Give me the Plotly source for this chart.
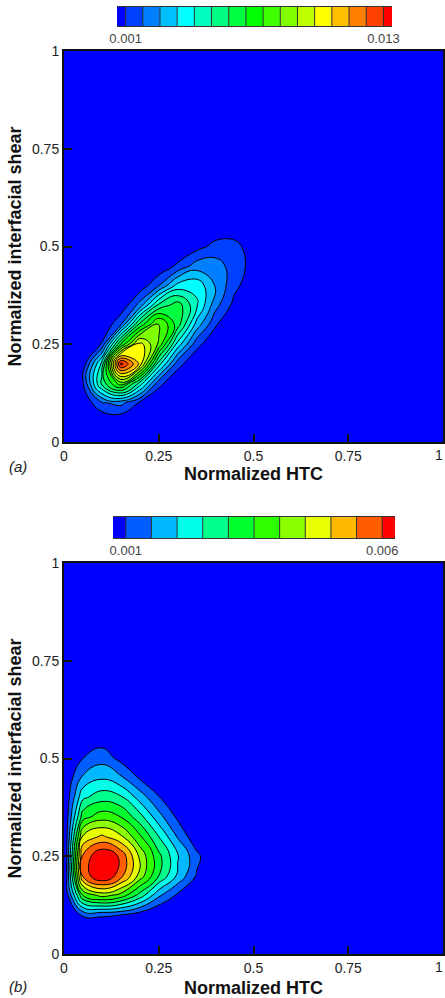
import numpy as np
import plotly.graph_objects as go

# Grid nodes (normalized HTC on x, normalized interfacial shear on y)
HTC_A = [0.0, 0.05, 0.10, 0.15, 0.20, 0.25, 0.30, 0.35, 0.40, 0.45, 0.50, 0.55]
SHEAR_A = [0.0, 0.05, 0.10, 0.15, 0.20, 0.25, 0.30, 0.35, 0.40, 0.45, 0.50, 0.55, 0.60]

# Joint PDF, case (a), in units of 1e-3 (rows follow SHEAR_A, columns HTC_A)
PDF_A = [
    [0, 0, 0, 0, 0, 0, 0, 0, 0, 0, 0, 0],
    [0, 0, 0.12, 0.19, 0.07, 0.01, 0, 0, 0, 0, 0, 0],
    [0, 0.35, 1.7, 2.05, 0.86, 0.15, 0.02, 0, 0, 0, 0, 0],
    [0.03, 0.93, 5.26, 7.9, 4.7, 1.28, 0.22, 0.03, 0, 0, 0, 0],
    [0.01, 0.42, 4.48, 13.3, 10.4, 4.6, 1.32, 0.29, 0.05, 0, 0, 0],
    [0, 0.05, 1.09, 6.66, 10.2, 8.05, 3.86, 1.27, 0.32, 0.06, 0, 0],
    [0, 0, 0.14, 1.77, 6.13, 8.47, 6.2, 3.05, 1.08, 0.29, 0.06, 0],
    [0, 0, 0, 0.32, 2.13, 5.19, 6.23, 4.34, 2.08, 0.73, 0.21, 0.05],
    [0, 0, 0, 0.05, 0.44, 1.77, 3.7, 3.97, 2.53, 1.21, 0.47, 0.14],
    [0, 0, 0, 0, 0.05, 0.33, 1.17, 2.2, 2.17, 1.42, 0.69, 0.25],
    [0, 0, 0, 0, 0, 0.03, 0.21, 0.69, 1.27, 1.19, 0.67, 0.26],
    [0, 0, 0, 0, 0, 0, 0, 0.13, 0.4, 0.61, 0.42, 0.13],
    [0, 0, 0, 0, 0, 0, 0, 0, 0.06, 0.14, 0.12, 0],
]

HTC_B = [0.0, 0.05, 0.10, 0.15, 0.20, 0.25, 0.30, 0.35, 0.40]
SHEAR_B = [0.0, 0.05, 0.10, 0.15, 0.20, 0.25, 0.30, 0.35, 0.40, 0.45, 0.50, 0.55, 0.60]

# Joint PDF, case (b), in units of 1e-3 (rows follow SHEAR_B, columns HTC_B)
PDF_B = [
    [0, 0, 0, 0, 0, 0, 0, 0, 0],
    [0, 0.1, 0.1, 0.1, 0.1, 0, 0, 0, 0],
    [0.2, 1.1, 1.1, 1.0, 0.7, 0.4, 0.15, 0, 0],
    [0.3, 3.5, 4.2, 3.8, 2.8, 1.6, 0.9, 0.2, 0],
    [0.2, 5.6, 6.6, 5.7, 4.3, 3.0, 1.9, 0.95, 0.3],
    [0.2, 5.6, 6.5, 5.9, 4.4, 3.15, 2.05, 1.15, 0.4],
    [0.3, 4.6, 5.1, 4.6, 3.6, 2.5, 1.45, 0.6, 0.1],
    [0.4, 3.3, 3.8, 3.5, 2.7, 1.7, 0.9, 0.3, 0],
    [0.45, 2.4, 2.8, 2.6, 1.8, 1.05, 0.4, 0.05, 0],
    [0.5, 1.6, 1.95, 1.6, 0.95, 0.4, 0.1, 0, 0],
    [0.3, 1.0, 1.3, 0.85, 0.4, 0.1, 0, 0, 0],
    [0.1, 0.5, 0.75, 0.45, 0.15, 0, 0, 0, 0],
    [0, 0.2, 0.3, 0.15, 0, 0, 0, 0, 0],
]

# Contour levels (first level, last level, spacing) of each case
LEVELS_A = (0.001, 0.013, 0.0008)
LEVELS_B = (0.001, 0.006, 0.0005)
TICKS_X = [0, 0.25, 0.5, 0.75]
TICKS_Y = [0, 0.25, 0.5, 0.75, 1]

RAINBOW = [[0.0, "rgb(0,0,255)"], [0.25, "rgb(0,255,255)"], [0.5, "rgb(0,255,0)"],
           [0.75, "rgb(255,255,0)"], [1.0, "rgb(255,0,0)"]]

W, H = 445, 998
FONT = "Liberation Sans, Arial, Helvetica, sans-serif"


def extend(nodes):
    # the density is zero beyond the tabulated window, out to the axis limit
    return list(nodes) + [1.0]


def field(rows):
    z = np.array(rows, dtype=float) * 1e-3
    return np.pad(z, ((0, 1), (0, 1)))


def px_x(p):
    return p / W


def px_y(p):
    return 1 - p / H


def level_values(levels):
    start, end, size = levels
    n = int(round((end - start) / size)) + 1
    return [start + i * size for i in range(n)]


def contour(x, y, rows, levels, xa, ya):
    start, end, size = levels
    return go.Contour(
        x=extend(x), y=extend(y), z=field(rows),
        xaxis=xa, yaxis=ya, showscale=False,
        colorscale=RAINBOW,
        contours=dict(coloring="fill", showlines=True, start=start, end=end, size=size),
        line=dict(color="black", width=1, smoothing=1.3),
        hoverinfo="skip",
    )


def legend_traces(levels, xa, ya):
    # Banded legend: one box per fill band, half-width boxes for the open ends
    lv = level_values(levels)
    size = levels[2]
    edges = [lv[0] - size / 2] + lv + [lv[-1] + size / 2]
    nb = len(edges) - 1
    band = go.Heatmap(
        x=edges, y=[0, 1], z=[list(range(nb))], zmin=0, zmax=nb - 1,
        colorscale=RAINBOW, showscale=False, hoverinfo="skip", xaxis=xa, yaxis=ya,
    )
    sx, sy = [], []
    for v in lv:
        sx += [v, v, None]
        sy += [0, 1, None]
    seps = go.Scatter(x=sx, y=sy, mode="lines", line=dict(color="#333", width=1),
                      hoverinfo="skip", xaxis=xa, yaxis=ya)
    return [band, seps]


fig = go.Figure()
fig.add_trace(contour(HTC_A, SHEAR_A, PDF_A, LEVELS_A, "x", "y"))
fig.add_trace(contour(HTC_B, SHEAR_B, PDF_B, LEVELS_B, "x2", "y2"))
for t in legend_traces(LEVELS_A, "x3", "y3") + legend_traces(LEVELS_B, "x4", "y4"):
    fig.add_trace(t)

tickfont = dict(family=FONT, size=14, color="#222")
titlefont = dict(family=FONT, size=18, color="#111", weight="bold")


def xaxis(anchor, standoff):
    # tick mark at 1 is drawn; its label is placed separately against the page edge
    return dict(range=[0, 1], tickvals=TICKS_X + [1], ticktext=["0", "0.25", "0.5", "0.75", ""],
                ticks="inside", ticklen=8, tickwidth=2,
                tickcolor="#111", showline=True, linewidth=2, linecolor="#111", mirror=True,
                showgrid=False, zeroline=False, tickfont=tickfont, anchor=anchor,
                automargin=False, domain=[px_x(64), px_x(443)],
                title=dict(text="Normalized HTC", font=titlefont, standoff=standoff))


def yaxis(anchor, top, bottom):
    return dict(range=[0, 1], tickvals=TICKS_Y, ticks="inside", ticklen=8, tickwidth=2,
                tickcolor="#111", showline=True, linewidth=2, linecolor="#111", mirror=True,
                showgrid=False, zeroline=False, tickfont=tickfont, anchor=anchor,
                automargin=False, domain=[px_y(bottom), px_y(top)],
                title=dict(text="Normalized interfacial shear", font=titlefont, standoff=6))


def legend_xaxis(anchor, levels, x0, x1):
    start, end, size = levels
    return dict(range=[start - size / 2, end + size / 2], domain=[px_x(x0), px_x(x1)],
                anchor=anchor, tickvals=[start, end],
                ticktext=[f"{start:.3f}", f"{end:.3f}"], ticks="", showgrid=False,
                zeroline=False, showline=True, linewidth=1, linecolor="#333", mirror=True,
                automargin=False,
                tickfont=dict(family=FONT, size=13, color="#444"), fixedrange=True)


def legend_yaxis(anchor, top, bottom):
    return dict(range=[0, 1], domain=[px_y(bottom), px_y(top)], anchor=anchor,
                showticklabels=False, ticks="", showgrid=False, zeroline=False,
                showline=False, fixedrange=True, automargin=False)


label_font = dict(family=FONT, size=15, color="#222", style="italic")


def note(text, x, y, font, xanchor="center"):
    return dict(text=text, x=x, y=y, xref="paper", yref="paper", showarrow=False,
                xanchor=xanchor, yanchor="middle", font=font)


fig.update_layout(
    width=W, height=H, margin=dict(l=0, r=0, t=0, b=0, autoexpand=False),
    paper_bgcolor="white", plot_bgcolor="white", showlegend=False,
    xaxis=xaxis("y", 4), yaxis=yaxis("x", 51, 442),
    xaxis2=xaxis("y2", 8), yaxis2=yaxis("x2", 563, 954),
    xaxis3=legend_xaxis("y3", LEVELS_A, 117, 392), yaxis3=legend_yaxis("x3", 7, 26),
    xaxis4=legend_xaxis("y4", LEVELS_B, 113, 395), yaxis4=legend_yaxis("x4", 517, 538),
    annotations=[
        note("(a)", px_x(18), px_y(467), label_font),
        note("(b)", px_x(18), px_y(986), label_font),
        note("1", px_x(445), px_y(455), tickfont, xanchor="right"),
        note("1", px_x(445), px_y(967), tickfont, xanchor="right"),
    ],
)

fig.write_html("out.html")
